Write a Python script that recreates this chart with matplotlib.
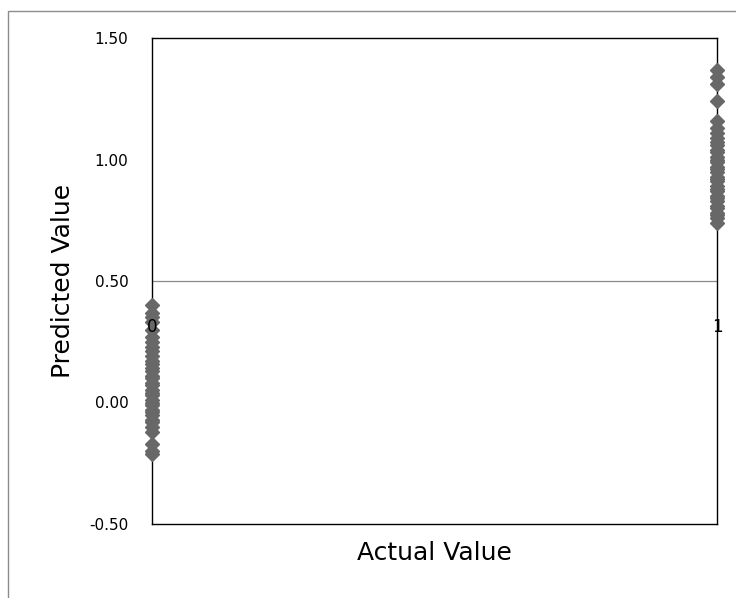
import matplotlib
matplotlib.use("Agg")
import matplotlib.pyplot as plt
from matplotlib.patches import Rectangle

# valores
pred_0 = [0.40, 0.37, 0.35, 0.33, 0.30, 0.27, 0.25, 0.23, 0.21, 0.19, 0.17,
          0.16, 0.14, 0.13, 0.11, 0.10, 0.08, 0.07, 0.05, 0.04, 0.03, 0.01,
          0.00, -0.01, -0.03, -0.04, -0.05, -0.07, -0.08, -0.10, -0.12,
          -0.17, -0.20, -0.21]
pred_1 = [1.37, 1.34, 1.31, 1.24, 1.16, 1.13, 1.11, 1.09, 1.07, 1.06, 1.04,
          1.03, 1.01, 1.00, 0.99, 0.97, 0.96, 0.95, 0.93, 0.92, 0.91, 0.89,
          0.88, 0.87, 0.85, 0.84, 0.83, 0.81, 0.80, 0.78, 0.77, 0.76, 0.74]
x_cats = [0, 1]
y_ticks = [-0.50, 0.00, 0.50, 1.00, 1.50]
limiar = 0.5

fig = plt.figure(figsize=(7.36, 5.98), dpi=100)
ax = fig.add_axes([152/736, 74/598, 565/736, 486/598])

cor = "#686868"
ax.plot([x_cats[0]] * len(pred_0), pred_0, linestyle="none", marker="D",
        markersize=7, color=cor, zorder=3, clip_on=False)
ax.plot([x_cats[1]] * len(pred_1), pred_1, linestyle="none", marker="D",
        markersize=7, color=cor, zorder=3, clip_on=False)

ax.axhline(limiar, color="#8a8a8a", lw=0.9, zorder=1)

ax.set_xlim(0, 1)
ax.set_ylim(-0.5, 1.5)
ax.set_yticks(y_ticks)
ax.set_yticklabels([f"{v:.2f}" for v in y_ticks], fontsize=11)
ax.tick_params(axis="y", length=0, pad=17)
ax.set_xticks([])

# rótulos do eixo x ficam logo abaixo da linha em 0.5
for xv in x_cats:
    ax.text(xv, 0.31, str(xv), ha="center", va="center", fontsize=12,
            color="black", zorder=4)

for s in ax.spines.values():
    s.set_color("black")
    s.set_linewidth(1.0)

ax.set_ylabel("Predicted Value", fontsize=18, labelpad=10)
ax.set_xlabel("Actual Value", fontsize=18, labelpad=12)

# borda da área do gráfico
borda = Rectangle((8/736, -0.02), 0.99, (598 - 11)/598 + 0.02,
                  transform=fig.transFigure, fill=False,
                  edgecolor="#8c8c8c", lw=1.0, clip_on=False)
fig.patches.append(borda)

fig.savefig("out.png", dpi=100)
